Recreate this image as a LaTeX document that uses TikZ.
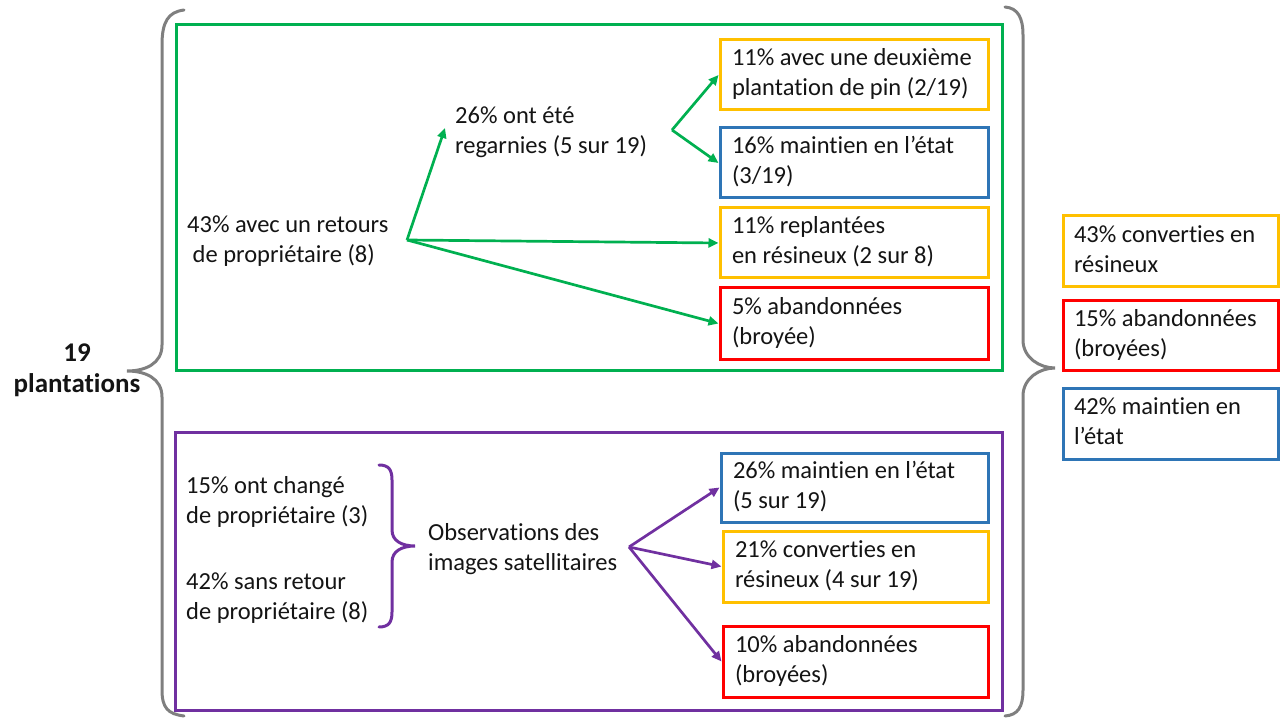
\documentclass[tikz,border=0pt]{standalone}
\usepackage{fontspec}
\setmainfont{Carlito}[Ligatures=NoCommon]
\usetikzlibrary{arrows.meta}
\definecolor{cgreen}{HTML}{00B050}
\definecolor{cpurple}{HTML}{7030A0}
\definecolor{cyellow}{HTML}{FFC000}
\definecolor{cblue}{HTML}{2E75B6}
\definecolor{cred}{HTML}{FF0000}
\definecolor{cgrey}{HTML}{7F7F7F}
\definecolor{ctext}{HTML}{141414}
\newcommand\lne[1]{\strut\mbox{\spaceskip=0pt\xspaceskip=0pt #1}}
\begin{document}
\begin{tikzpicture}[x=1pt,y=-1pt,
  every node/.style={text=ctext},
  txt/.style={font=\fontsize{24.5}{30}\selectfont, align=left, inner sep=0pt, anchor=west},
  bx/.style={draw, line width=3pt, font=\fontsize{24.5}{30}\selectfont, align=left,
    inner xsep=#1, inner ysep=0pt},
  frame/.style={draw, line width=3pt, inner sep=0pt},
  brace/.style={draw=cgrey, line width=3pt, line cap=round},
  garrow/.style={draw=cgreen, line width=2.7pt, -{Triangle[length=10pt,width=9pt]}},
  parrow/.style={draw=cpurple, line width=2.7pt, -{Triangle[length=10pt,width=9pt]}}]
\useasboundingbox (0,0) rectangle (1283,722);

% frames
\node[frame, draw=cgreen, minimum width=826pt, minimum height=345pt] (gbox) at (589,197.5) {};
\node[frame, draw=cpurple, minimum width=827pt, minimum height=278pt] (pbox) at (588.5,571) {};

% left label and brace
\node[font=\bfseries\fontsize{27}{31}\selectfont, align=center, inner sep=0pt] (lbl) at (77,371) {\strut 19\\\strut plantations};
\draw[brace] (184,10) .. controls (168,12) and (162,22) .. (162,45) -- (162,345)
  .. controls (162,364) and (145,371) .. (127,371)
  .. controls (145,371) and (162,378) .. (162,397) -- (162,690)
  .. controls (162,708) and (168,714) .. (184,716);

% right brace
\draw[brace] (1005,7) .. controls (1018,8) and (1023,18) .. (1023,35) -- (1023,340)
  .. controls (1023,358) and (1040,368) .. (1055,368)
  .. controls (1040,368) and (1023,378) .. (1023,396) -- (1023,690)
  .. controls (1023,707) and (1018,715) .. (1005,716);

% green section
\node[txt] (t43) at (187,242) {\lne{43\% avec un retours}\\\lne{\hspace{5.5pt}de propriétaire (8)}};
\node[txt] (t26) at (455,133) {\lne{26\% ont été}\\\lne{regarnies (5 sur 19)}};
\node[bx=12pt, draw=cyellow, text width=244pt, minimum height=70pt] (b1) at (854,75)
  {\lne{11\% avec une deuxième}\\\lne{plantation de pin (2/19)}};
\node[bx=12pt, draw=cblue, text width=244pt, minimum height=70pt] (b2) at (854,163)
  {\lne{16\% maintien en l’état}\\\lne{(3/19)}};
\node[bx=12pt, draw=cyellow, text width=244pt, minimum height=70pt] (b3) at (854,243)
  {\lne{11\% replantées}\\\lne{en résineux (2 sur 8)}};
\node[bx=12pt, draw=cred, text width=244pt, minimum height=71pt] (b4) at (854,323.5)
  {\lne{5\% abandonnées}\\\lne{(broyée)}};

\coordinate (o1) at (407,240);
\coordinate (a26) at (445,128);
\coordinate (o2) at (672,130);
\draw[garrow] (o1) -- (a26);
\draw[garrow] (o1) -- (b3.west);
\draw[garrow] (o1) -- (b4.west);
\draw[garrow] (o2) -- (b1.west);
\draw[garrow] (o2) -- (b2.west);

% purple section
\node[txt] (t15) at (186,502) {\lne{15\% ont changé}\\\lne{de propriétaire (3)}};
\node[txt] (t42) at (186,598) {\lne{42\% sans retour}\\\lne{de propriétaire (8)}};
\draw[draw=cpurple, line width=3pt, line cap=round] (379,465) .. controls (389,465) and (392,470) .. (392,480) -- (392,530)
  .. controls (392,541) and (402,546) .. (415,546)
  .. controls (402,546) and (392,551) .. (392,562) -- (392,612)
  .. controls (392,622) and (389,627) .. (379,627);
\node[txt] (tobs) at (428,549) {\lne{Observations des}\\\lne{images satellitaires}};

\node[bx=12pt, draw=cblue, text width=243pt, minimum height=69pt] (b5) at (854.5,487.5)
  {\lne{26\% maintien en l’état}\\\lne{(5 sur 19)}};
\node[bx=12pt, draw=cyellow, text width=241pt, minimum height=71pt] (b6) at (855.5,566.5)
  {\lne{21\% converties en}\\\lne{résineux (4 sur 19)}};
\node[bx=12pt, draw=cred, text width=241pt, minimum height=71pt] (b7) at (855.5,661.5)
  {\lne{10\% abandonnées}\\\lne{(broyées)}};

\coordinate (o3) at (629,547);
\draw[parrow] (o3) -- (b5.west);
\draw[parrow] (o3) -- (b6.west);
\draw[parrow] (o3) -- (b7.west);

% right summary
\node[bx=11pt, draw=cyellow, text width=193pt, minimum height=71pt] (r1) at (1170.5,251.5)
  {\lne{43\% converties en}\\\lne{résineux}};
\node[bx=11pt, draw=cred, text width=193pt, minimum height=70pt] (r2) at (1170.5,335)
  {\lne{15\% abandonnées}\\\lne{(broyées)}};
\node[bx=11pt, draw=cblue, text width=193pt, minimum height=71pt] (r3) at (1170.5,423.5)
  {\lne{42\% maintien en}\\\lne{l’état}};
\end{tikzpicture}
\end{document}
